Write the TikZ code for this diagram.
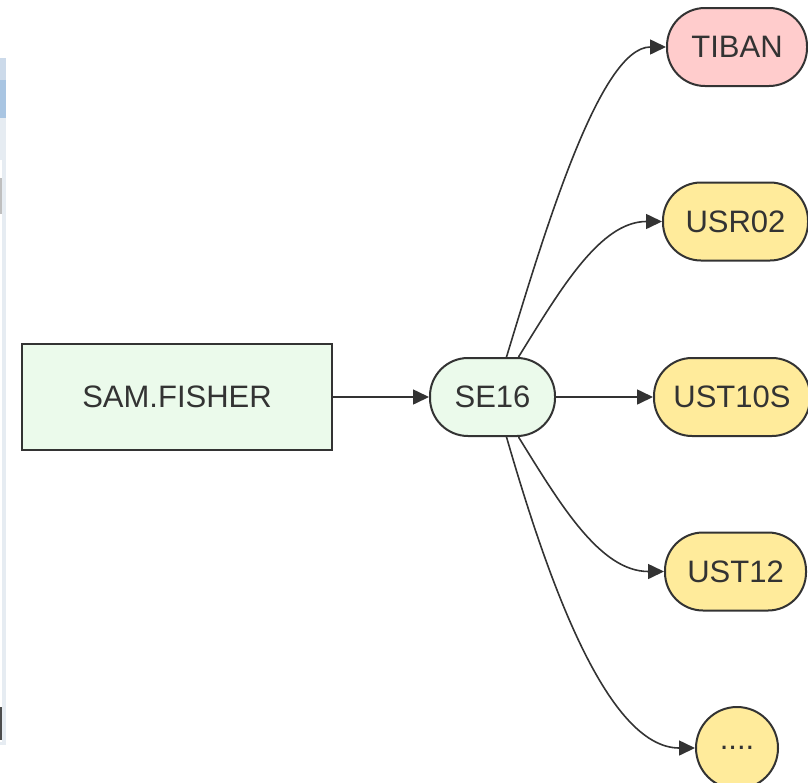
\documentclass[tikz,border=0pt]{standalone}
\usepackage{fontspec}
\setmainfont{Liberation Sans}
\usetikzlibrary{arrows.meta}
\definecolor{edgegray}{HTML}{333333}
\definecolor{txtgray}{HTML}{333333}
\definecolor{mintfill}{HTML}{EBFAEB}
\definecolor{pinkfill}{HTML}{FFCCCC}
\definecolor{goldfill}{HTML}{FFEB9B}
\definecolor{stripbg}{HTML}{E6ECF2}
\definecolor{stripband}{HTML}{A9C5E2}
\definecolor{striptop}{HTML}{CCDAEA}
\tikzset{
  every node/.style={text=txtgray, font=\fontsize{31}{37}\selectfont, line width=2pt, draw=edgegray, inner sep=0pt},
  boxnode/.style={rectangle, fill=mintfill, minimum width=310pt, minimum height=106pt},
  pill/.style={rectangle, rounded corners=38pt, minimum height=78pt},
  link/.style={draw=edgegray, line width=1.6pt, -{Triangle[length=16pt,width=15pt]}}
}
\begin{document}
\begin{tikzpicture}[x=1pt,y=-1pt]
\useasboundingbox (0,0) rectangle (808,782);
% side panel strip
\fill[stripbg] (0,58) rectangle (6,745);
\fill[striptop] (0,58) rectangle (6,80);
\fill[stripband] (0,80) rectangle (6,118);
\fill[white] (0,160) rectangle (2,742);
\fill[black!25] (0,178) rectangle (2,214);
\fill[black!70] (0,707) rectangle (2,740);

\node[boxnode] (sam) at (177,397) {SAM.FISHER};
\node[pill, fill=mintfill, minimum width=125pt] (se) at (492.5,397) {SE16};
\node[pill, fill=pinkfill, minimum width=140pt] (tiban) at (737,47) {TIBAN};
\node[pill, fill=goldfill, minimum width=145pt] (usr) at (735.5,221.5) {USR02};
\node[pill, fill=goldfill, minimum width=156pt] (ust10) at (732,397) {UST10S};
\node[pill, fill=goldfill, minimum width=141pt] (ust12) at (735.5,571.5) {UST12};
\node[circle, fill=goldfill, minimum size=82pt] (more) at (737,748) {....};

\draw[link] (sam) -- (se);
\draw[link] (se) -- (ust10);
\draw[link] ([xshift=14pt]se.north) .. controls (545,230) and (600,47) .. (tiban.west);
\draw[link] ([xshift=26pt]se.north) .. controls (560,290) and (600,221.5) .. (usr.west);
\draw[link] ([xshift=26pt]se.south) .. controls (560,504) and (600,571.5) .. (ust12.west);
\draw[link] ([xshift=14pt]se.south) .. controls (545,570) and (605,748) .. (more.west);
\end{tikzpicture}
\end{document}
